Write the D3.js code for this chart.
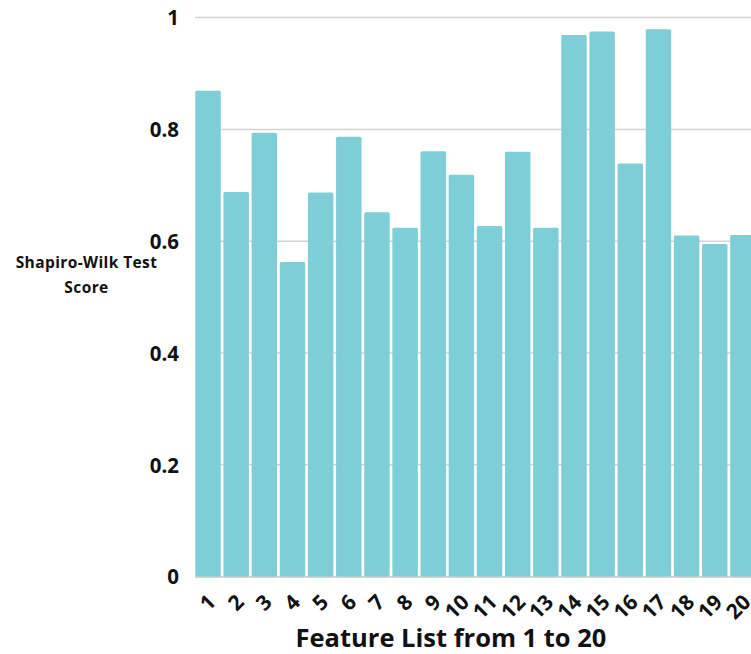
<!DOCTYPE html>
<html>
<head>
<meta charset="utf-8">
<script src="https://cdn.jsdelivr.net/npm/d3@7"></script>
<style>
  html, body { margin: 0; padding: 0; background: #fff; overflow: hidden; }
  svg { display: block; }
  text { font-family: "Open Sans", sans-serif; font-weight: 700; fill: #111; }
</style>
</head>
<body>
<svg id="chart" width="751" height="654"></svg>
<script>
const categories = ["1","2","3","4","5","6","7","8","9","10","11","12","13","14","15","16","17","18","19","20"];
const scores = [0.869, 0.688, 0.794, 0.563, 0.687, 0.787, 0.652, 0.624, 0.761, 0.719, 0.627, 0.760, 0.624, 0.969, 0.975, 0.739, 0.979, 0.610, 0.595, 0.611];
const yTicks = [0, 0.2, 0.4, 0.6, 0.8, 1];
const yTickLabels = ["0", "0.2", "0.4", "0.6", "0.8", "1"];
const yTitleLines = ["Shapiro-Wilk Test", "Score"];
const xTitle = "Feature List from 1 to 20";

const svg = d3.select("#chart");

const x = d3.scaleBand()
  .domain(categories)
  .range([193.95, 757])
  .paddingInner(0.095)
  .paddingOuter(0.0475);

const y = d3.scaleLinear().domain([0, 1]).range([576.6, 17.6]);

// gridlines
svg.append("g")
  .selectAll("line")
  .data(yTicks.filter(d => d > 0))
  .join("line")
  .attr("x1", 195).attr("x2", 751)
  .attr("y1", d => y(d)).attr("y2", d => y(d))
  .attr("stroke", "#d2d2d2").attr("stroke-width", 1.5);

// baseline
svg.append("line")
  .attr("x1", 195).attr("x2", 751)
  .attr("y1", y(0) + 0.5).attr("y2", y(0) + 0.5)
  .attr("stroke", "#c4c4c4").attr("stroke-width", 1.5);

// bars
svg.append("g")
  .selectAll("rect")
  .data(categories.map((c, i) => ({ c, v: scores[i] })))
  .join("rect")
  .attr("x", d => x(d.c))
  .attr("width", x.bandwidth())
  .attr("y", d => y(d.v))
  .attr("height", d => y(0) - y(d.v))
  .attr("rx", 1.5)
  .attr("fill", "#7fced7");

// y tick labels
const yAxis = d3.axisLeft(y).tickValues(yTicks).tickFormat((d, i) => yTickLabels[i]).tickSize(0).tickPadding(0);
const gy = svg.append("g").attr("transform", "translate(179,0)").call(yAxis);
gy.select(".domain").remove();
gy.selectAll("text")
  .attr("font-size", 20.5)
  .attr("font-family", "'Open Sans', sans-serif")
  .attr("font-weight", 700)
  .attr("fill", "#111")
  .attr("dy", "0.36em");

// x tick labels
const xAxis = d3.axisBottom(x).tickSize(0).tickPadding(0);
const gx = svg.append("g").attr("transform", `translate(0,${y(0)})`).call(xAxis);
gx.select(".domain").remove();
gx.selectAll("text")
  .attr("font-size", 21)
  .attr("font-family", "'Open Sans', sans-serif")
  .attr("font-weight", 700)
  .attr("fill", "#111")
  .attr("text-anchor", "end")
  .attr("dy", 0)
  .attr("y", 0)
  .attr("transform", "translate(9,27) rotate(-45)");

// y title
svg.append("text")
  .attr("x", 86.5)
  .attr("text-anchor", "middle")
  .attr("font-size", 15.5)
  .attr("letter-spacing", 0.4)
  .selectAll("tspan")
  .data(yTitleLines)
  .join("tspan")
  .attr("x", 86.5)
  .attr("y", (d, i) => 268 + i * 25)
  .text(d => d);

// x title
svg.append("text")
  .attr("x", 451)
  .attr("y", 647)
  .attr("text-anchor", "middle")
  .attr("font-size", 25.5)
  .text(xTitle);
</script>
</body>
</html>
